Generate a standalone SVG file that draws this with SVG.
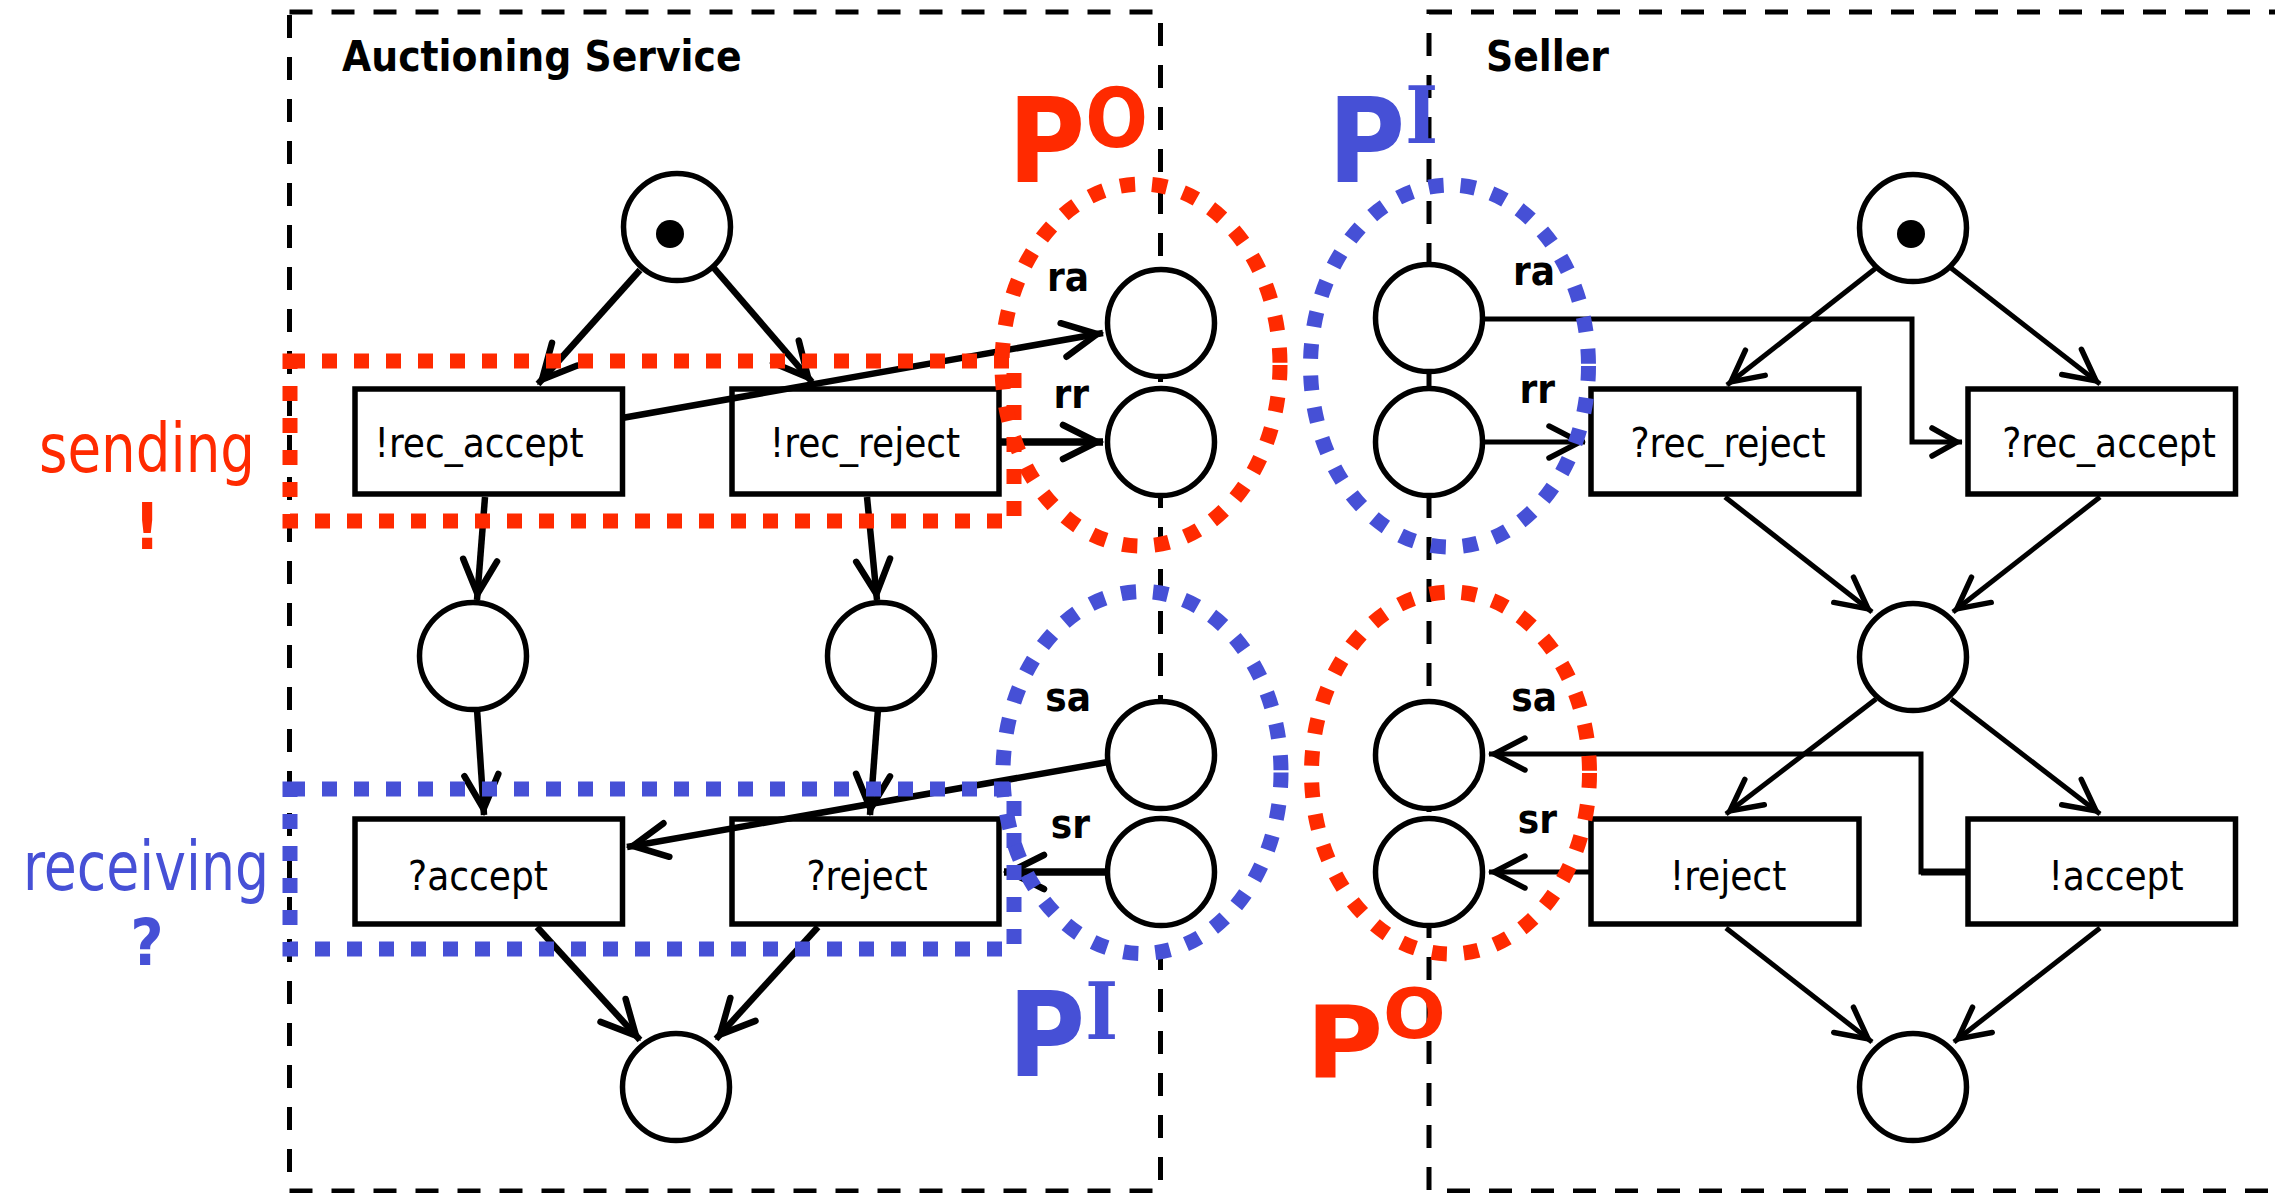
<svg xmlns="http://www.w3.org/2000/svg" width="2275" height="1193" viewBox="0 0 2275 1193">
<defs>
<style>
.box{fill:none;stroke:#000;stroke-width:5;stroke-dasharray:23 19}
.pl{fill:#fff;stroke:#000;stroke-width:5.5}
.tr{fill:#fff;stroke:#000;stroke-width:5.5}
.tok{fill:#000}
.t{font-family:"DejaVu Sans Condensed","DejaVu Sans",sans-serif;font-stretch:condensed;font-size:40px;fill:#000;text-anchor:middle}
.b{font-family:"DejaVu Sans Condensed","DejaVu Sans",sans-serif;font-stretch:condensed;font-weight:bold}
.lab{font-size:40px;text-anchor:end;fill:#000}
.arcL{fill:none;stroke:#000;stroke-width:6.5;marker-end:url(#aL)}
.arcT{fill:none;stroke:#000;stroke-width:7.5;marker-end:url(#aL)}
.arcS{fill:none;stroke:#000;stroke-width:5;marker-end:url(#aS)}
.arcP{fill:none;stroke:#000;stroke-width:5;stroke-linejoin:miter;marker-end:url(#aP)}
.red{stroke:#ff2a00}
.blue{stroke:#4650d6}
.dot{fill:none;stroke-width:15;stroke-dasharray:15 17}
.big{font-family:"DejaVu Sans Condensed","DejaVu Sans",sans-serif;font-stretch:condensed;font-weight:bold;font-size:117px}
.sup{font-family:"DejaVu Sans Condensed","DejaVu Sans",sans-serif;font-stretch:condensed;font-weight:bold;font-size:82px}
.supI{font-family:"DejaVu Serif","Liberation Serif",serif;font-stretch:condensed;font-weight:bold;font-size:78px}
.side{font-family:"DejaVu Sans Condensed","DejaVu Sans",sans-serif;font-stretch:condensed;font-size:68px;text-anchor:middle}
.mark{font-family:"DejaVu Sans Condensed","DejaVu Sans",sans-serif;font-stretch:condensed;font-weight:bold;font-size:64px;text-anchor:middle}
</style>
<marker id="aL" markerUnits="userSpaceOnUse" orient="auto" refX="6" refY="0" markerWidth="80" markerHeight="80" overflow="visible">
<path d="M-34,-17 L0,0 L-34,17" fill="none" stroke="#000" stroke-width="6.5" stroke-linecap="round"/>
</marker>
<marker id="aS" markerUnits="userSpaceOnUse" orient="auto" refX="5" refY="0" markerWidth="80" markerHeight="80" overflow="visible">
<path d="M-31,-16 L0,0 L-31,16" fill="none" stroke="#000" stroke-width="5.5" stroke-linecap="round"/>
</marker>
<marker id="aP" markerUnits="userSpaceOnUse" orient="auto" refX="5" refY="0" markerWidth="80" markerHeight="80" overflow="visible">
<path d="M-25,-14 L0,0 L-25,14" fill="none" stroke="#000" stroke-width="5.5" stroke-linecap="round"/>
</marker>
</defs>
<rect width="2275" height="1193" fill="#fff"/>

<g id="frames">
<rect class="box" x="289.5" y="12" width="871" height="1179"/>
<rect class="box" x="1429" y="12" width="880" height="1179"/>
<text class="b" x="342" y="71" font-size="42">Auctioning Service</text>
<text class="b" x="1486" y="71" font-size="42">Seller</text>
</g>

<g id="connectors">
<path class="arcL" d="M640,270 L538,384"/>
<path class="arcL" d="M713,267 L812,382"/>
<path class="arcL" d="M485,497 L477,600"/>
<path class="arcL" d="M867,497 L877,600"/>
<path class="arcL" d="M477,709 L484,815"/>
<path class="arcL" d="M878,709 L870,815"/>
<path class="arcL" d="M537,927 L640,1040"/>
<path class="arcL" d="M818,927 L716,1039"/>
<path class="arcS" d="M1876,268 L1727,385"/>
<path class="arcS" d="M1951,268 L2100,384"/>
<path class="arcS" d="M1725,497 L1872,612"/>
<path class="arcS" d="M2100,497 L1953,612"/>
<path class="arcS" d="M1876,699 L1726,814"/>
<path class="arcS" d="M1951,699 L2100,814"/>
<path class="arcS" d="M1726,928 L1872,1042"/>
<path class="arcS" d="M2100,928 L1954,1042"/>
</g>

<g id="p_as_start"><circle class="pl" cx="677" cy="227" r="53.5"/><circle class="tok" cx="670" cy="234" r="14"/></g>
<g id="p_as_m1"><circle class="pl" cx="473" cy="656" r="53.5"/></g>
<g id="p_as_m2"><circle class="pl" cx="881" cy="656" r="53.5"/></g>
<g id="p_as_end"><circle class="pl" cx="676" cy="1087" r="53.5"/></g>
<g id="p_se_start"><circle class="pl" cx="1913" cy="228" r="53.5"/><circle class="tok" cx="1911" cy="234" r="14"/></g>
<g id="p_se_mid"><circle class="pl" cx="1913" cy="657" r="53.5"/></g>
<g id="p_se_end"><circle class="pl" cx="1913" cy="1087" r="53.5"/></g>

<g id="p_ra_o"><circle class="pl" cx="1161" cy="323" r="53.5"/><text class="b lab" x="1089" y="291">ra</text></g>
<g id="p_rr_o"><circle class="pl" cx="1161" cy="442" r="53.5"/><text class="b lab" x="1089" y="408">rr</text></g>
<g id="p_sa_i"><circle class="pl" cx="1161" cy="755" r="53.5"/><text class="b lab" x="1091" y="711">sa</text></g>
<g id="p_sr_i"><circle class="pl" cx="1161" cy="872" r="53.5"/><text class="b lab" x="1090" y="838">sr</text></g>
<g id="p_ra_i"><circle class="pl" cx="1429" cy="318" r="53.5"/><text class="b lab" x="1555" y="285">ra</text></g>
<g id="p_rr_i"><circle class="pl" cx="1429" cy="442" r="53.5"/><text class="b lab" x="1555" y="403">rr</text></g>
<g id="p_sa_o"><circle class="pl" cx="1429" cy="755" r="53.5"/><text class="b lab" x="1557" y="711">sa</text></g>
<g id="p_sr_o"><circle class="pl" cx="1429" cy="872" r="53.5"/><text class="b lab" x="1557" y="833">sr</text></g>

<g id="t_rec_accept"><rect class="tr" x="355" y="389" width="267.5" height="105"/><text class="t" x="479" y="457">!rec_accept</text></g>
<g id="t_rec_reject"><rect class="tr" x="732" y="389" width="267" height="105"/><text class="t" x="865" y="457">!rec_reject</text></g>
<g id="t_accept"><rect class="tr" x="355" y="819" width="267.5" height="105"/><text class="t" x="478" y="890">?accept</text></g>
<g id="t_reject"><rect class="tr" x="732" y="819" width="267" height="105"/><text class="t" x="867" y="890">?reject</text></g>
<g id="t_s_rec_reject"><rect class="tr" x="1591" y="389" width="268" height="105"/><text class="t" x="1728" y="457">?rec_reject</text></g>
<g id="t_s_rec_accept"><rect class="tr" x="1968" y="389" width="267.5" height="105"/><text class="t" x="2109" y="457">?rec_accept</text></g>
<g id="t_s_reject"><rect class="tr" x="1591" y="819" width="268" height="105"/><text class="t" x="1728" y="890">!reject</text></g>
<g id="t_s_accept"><rect class="tr" x="1968" y="819" width="267.5" height="105"/><text class="t" x="2116" y="890">!accept</text></g>

<g id="channel_arcs">
<path class="arcL" d="M622,418 L1103,333"/>
<path class="arcT" d="M1001,442 L1103,442"/>
<path class="arcL" d="M1108,762 L627,847"/>
<path class="arcT" d="M1108,872 L1004,872"/>
<path class="arcP" d="M1482,319 L1912,319 L1912,442 L1962,442"/>
<path class="arcS" d="M1482,442 L1585,442"/>
<path class="arcS" d="M1968,872 L1921,872 L1921,754 L1489,754"/>
<path d="M1921,872 L1968,872" fill="none" stroke="#000" stroke-width="7"/>
<path class="arcS" d="M1591,872 L1489,872"/>
</g>

<g id="highlights">
<rect class="dot red" x="290" y="361" width="724" height="160"/>
<rect class="dot blue" x="290" y="789" width="724" height="160"/>
<ellipse class="dot red" cx="1141" cy="365" rx="139" ry="181"/>
<ellipse class="dot blue" cx="1449.5" cy="366" rx="139" ry="181"/>
<ellipse class="dot blue" cx="1142" cy="772.5" rx="139" ry="181"/>
<ellipse class="dot red" cx="1450.5" cy="773" rx="139" ry="181"/>
</g>

<g id="annotations">
<text x="1008" y="182" class="big" fill="#ff2a00">P<tspan class="sup" dy="-35">O</tspan></text>
<text x="1328" y="182" class="big" fill="#4650d6">P<tspan class="supI" dy="-39">I</tspan></text>
<text x="1008" y="1076" class="big" fill="#4650d6">P<tspan class="supI" dy="-37">I</tspan></text>
<text x="1306" y="1076.5" class="big" fill="#ff2a00" transform="matrix(1,0,0,0.85,0,161.5)">P<tspan class="sup" dy="-45">O</tspan></text>
<text x="147" y="472" class="side" fill="#ff2a00" textLength="216" lengthAdjust="spacingAndGlyphs">sending</text>
<text x="147" y="549" class="mark" fill="#ff2a00">!</text>
<text x="146" y="890" class="side" fill="#4650d6" textLength="246" lengthAdjust="spacingAndGlyphs">receiving</text>
<text x="147" y="965" class="mark" fill="#4650d6">?</text>
</g>
</svg>
